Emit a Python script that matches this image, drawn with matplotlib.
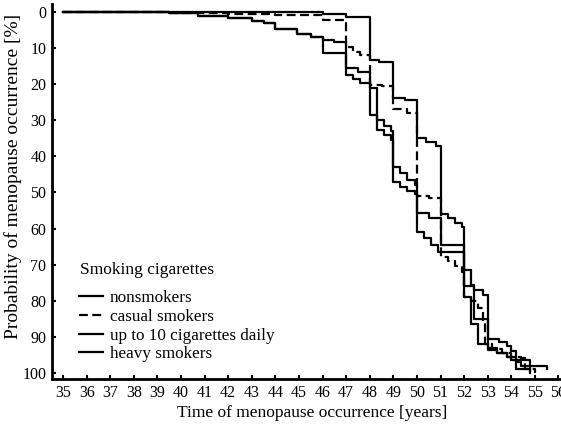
import matplotlib
matplotlib.use("Agg")
import matplotlib.pyplot as plt

# ---- data (step times in years, cumulative probability in %) ----
non_t = [35, 46.0, 47.0, 48.0, 48.4, 49.0, 49.5, 50.0, 50.4, 50.8, 51.0, 51.3, 51.6, 51.9,
         52.0, 52.4, 52.8, 53.0, 53.5, 53.8, 54.0, 54.2, 54.4, 55.5]
non_p = [0, 0.5, 1.5, 13.3, 13.8, 23.8, 24.3, 35.0, 36.0, 37.0, 56.0, 57.0, 58.5, 59.5,
         76.0, 77.0, 78.5, 90.5, 91.5, 92.5, 94.0, 97.0, 98.0, 99.0]

cas_t = [35, 39.5, 42.0, 44.0, 46.0, 46.9, 47.0, 47.3, 47.6, 48.0, 48.5, 49.0, 49.6, 50.0,
         50.5, 51.0, 51.3, 51.6, 51.9, 52.0, 52.3, 52.6, 52.8, 52.9, 53.2, 53.6, 54.0, 54.4,
         54.6, 55.0]
cas_p = [0, 0.3, 0.5, 0.8, 2.2, 3.0, 9.7, 11.0, 12.0, 20.2, 20.5, 27.0, 28.0, 51.0,
         51.5, 68.0, 69.0, 70.5, 72.0, 79.0, 80.0, 82.0, 86.0, 92.0, 93.5, 94.5, 95.5, 96.0,
         99.0, 100.0]

up10_t = [35, 39.5, 40.7, 42.0, 43.0, 43.5, 44.0, 44.9, 45.5, 46.0, 46.5, 47.0, 47.5, 48.0,
          48.3, 48.6, 48.9, 49.0, 49.3, 49.6, 49.9, 50.0, 50.5, 51.0, 52.0, 52.3, 52.4, 53.0,
          53.4, 53.8, 54.2, 54.8]
up10_p = [0, 0.3, 1.0, 1.7, 2.5, 3.0, 4.7, 6.0, 7.0, 7.8, 8.3, 15.5, 16.5, 28.5,
          30.0, 31.5, 33.0, 43.0, 44.5, 46.5, 48.0, 55.7, 57.0, 64.5, 71.5, 75.6, 85.0, 93.6,
          94.5, 95.5, 96.4, 99.5]

heavy_t = [35, 39.5, 40.7, 42.0, 43.0, 43.5, 44.0, 44.9, 45.5, 46.0, 47.0, 47.3, 47.6, 48.0,
           48.3, 48.6, 48.9, 49.0, 49.3, 49.6, 49.9, 50.0, 50.3, 50.6, 50.9, 52.0, 52.3, 52.6,
           53.0, 53.4, 53.8, 54.0, 54.2, 54.8]
heavy_p = [0, 0.3, 1.0, 1.7, 2.5, 3.0, 4.7, 6.0, 7.0, 11.4, 17.5, 18.5, 19.8, 21.0,
           32.7, 34.0, 35.5, 47.0, 48.5, 49.5, 50.5, 61.0, 62.5, 64.5, 66.5, 79.0, 86.5, 92.0,
           93.0, 94.5, 95.5, 96.5, 99.0, 100.0]

series_labels = ["nonsmokers", "casual smokers", "up to 10 cigarettes daily", "heavy smokers"]
legend_title = "Smoking cigarettes"
x_ticks = list(range(35, 57))
y_ticks = list(range(0, 101, 10))

plt.rcParams['font.family'] = ['Liberation Serif', 'DejaVu Serif']

fig = plt.figure(figsize=(5.61, 4.34), dpi=100)
ax = fig.add_axes([0.0927, 0.1267, 0.907, 0.864])

lw = 1.6
ax.step(non_t, non_p, where='post', color='black', lw=lw, label=series_labels[0])
ax.step(cas_t, cas_p, where='post', color='black', lw=lw, linestyle=(0, (4, 2)), label=series_labels[1])
ax.step(up10_t, up10_p, where='post', color='black', lw=lw, label=series_labels[2])
ax.step(heavy_t, heavy_p, where='post', color='black', lw=lw, label=series_labels[3])

ax.set_xlim(34.53, 56.1)
ax.set_ylim(101.7, -2.2)
ax.set_xticks(x_ticks)
ax.set_yticks(y_ticks)
ax.tick_params(direction='in', length=3, width=1.5, labelsize=11.5, colors='black', pad=4)

for s in ['top', 'right']:
    ax.spines[s].set_visible(False)
for s in ['left', 'bottom']:
    ax.spines[s].set_linewidth(2)

ax.set_xlabel("Time of menopause occurrence [years]", fontsize=12.5)
ax.set_ylabel("Probability of menopause occurrence [%]", fontsize=14)
ax.xaxis.set_label_coords(0.511, -0.068)
ax.yaxis.set_label_coords(-0.058, 0.54)

ax.text(0.055, 0.291, legend_title, transform=ax.transAxes, fontsize=12.5,
        ha='left', va='center')
leg = ax.legend(loc='upper left', bbox_to_anchor=(0.03, 0.27),
                frameon=False, fontsize=12.3, handlelength=1.4,
                handletextpad=0.4, labelspacing=0.17, borderpad=0.2)

fig.savefig("out.png", dpi=100)
